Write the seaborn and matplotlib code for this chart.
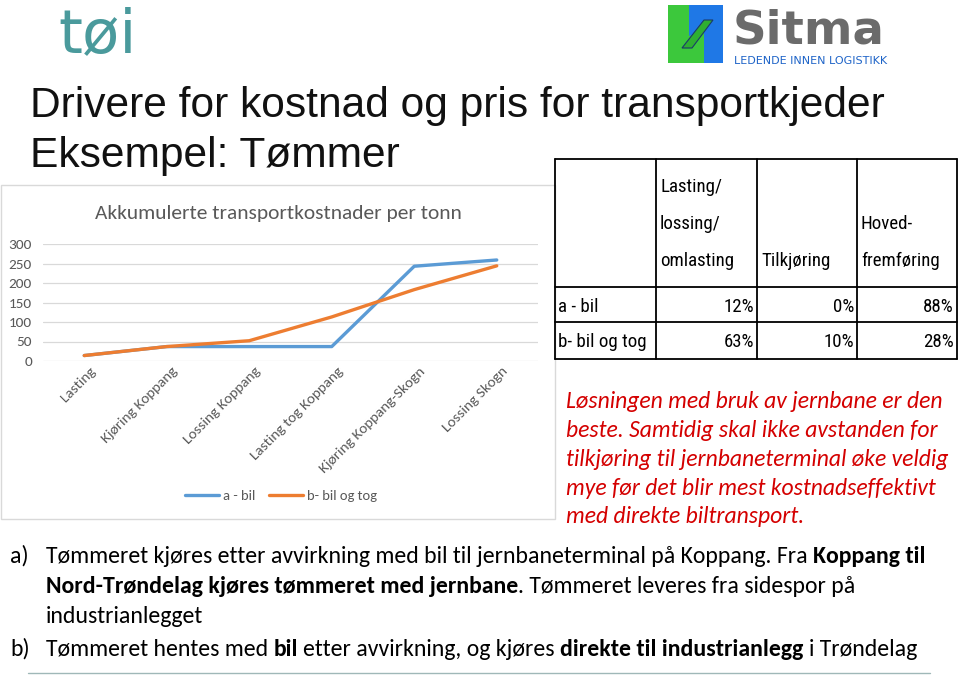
import numpy as np
import pandas as pd
import matplotlib
matplotlib.use("Agg")
import matplotlib.pyplot as plt
import seaborn as sns
from matplotlib.patches import Rectangle, Polygon
from matplotlib.lines import Line2D
from matplotlib.transforms import ScaledTranslation
from matplotlib import font_manager

# ---------------- data ----------------
categories = ["Lasting", "Kjøring Koppang", "Lossing Koppang", "Lasting tog Koppang",
              "Kjøring Koppang-Skogn", "Lossing Skogn"]
a_bil = [14, 37, 37, 37, 243, 259]
b_bil_og_tog = [14, 37, 52, 113, 183, 244]
series_names = ["a - bil", "b- bil og tog"]
series_colors = ["#5B9BD5", "#ED7D31"]
y_ticks = [0, 50, 100, 150, 200, 250, 300]
chart_title = "Akkumulerte transportkostnader per tonn"

table_header = [["Lasting/", "lossing/", "omlasting"], ["Tilkjøring"], ["Hoved-", "fremføring"]]
table_rows = ["a - bil", "b- bil og tog"]
table_values = [["12%", "0%", "88%"], ["63%", "10%", "28%"]]

title_lines = ["Drivere for kostnad og pris for transportkjeder", "Eksempel: Tømmer"]
red_lines = ["Løsningen med bruk av jernbane er den",
             "beste. Samtidig skal ikke avstanden for",
             "tilkjøring til jernbaneterminal øke veldig",
             "mye før det blir mest kostnadseffektivt",
             "med direkte biltransport."]
bullet_a = [
    [("Tømmeret kjøres etter avvirkning med bil til jernbaneterminal på Koppang. Fra ", False),
     ("Koppang til", True)],
    [("Nord-Trøndelag kjøres tømmeret med jernbane", True),
     (". Tømmeret leveres fra sidespor på", False)],
    [("industrianlegget", False)],
]
bullet_b = [
    [("Tømmeret hentes med ", False), ("bil", True), (" etter avvirkning, og kjøres ", False),
     ("direkte til industrianlegg", True), (" i Trøndelag", False)],
]

# ---------------- setup ----------------
W, H = 959, 676
sns.set_style("white")
available = {f.name for f in font_manager.fontManager.ttflist}


def pick(*names):
    for n in names:
        if n in available:
            return n
    return "DejaVu Sans"


CAL = pick("Carlito", "Lato", "Open Sans")
ARIAL = pick("Liberation Sans", "Arimo", "DejaVu Sans")
NARROW = pick("Liberation Sans Narrow", "DejaVu Sans Condensed", "Roboto Condensed", CAL)
plt.rcParams["font.family"] = [CAL, "DejaVu Sans"]

fig = plt.figure(figsize=(W / 100, H / 100), dpi=100)
fig.patch.set_facecolor("white")
renderer = fig.canvas.get_renderer()


def fx(x):
    return x / W


def fy(y):
    return 1 - y / H


def text_w(s, **kw):
    t = fig.text(0, 0, s, **kw)
    w = t.get_window_extent(renderer).width
    t.remove()
    return w


def fit(s, target, base=20.0, **kw):
    return base * target / text_w(s, fontsize=base, **kw)


def space_w(size, **kw):
    return text_w("x x", fontsize=size, **kw) - text_w("xx", fontsize=size, **kw)


def draw_segments(x, y, segs, size, family, color, draw=True):
    for s, bold in segs:
        kw = dict(family=[family, "DejaVu Sans"], weight="bold" if bold else "normal")
        sp = space_w(size, **kw)
        lead = len(s) - len(s.lstrip(" "))
        trail = len(s) - len(s.rstrip(" "))
        core = s.strip(" ")
        x += lead * sp
        t = fig.text(fx(x), fy(y), core, fontsize=size, color=color, va="baseline", ha="left", **kw)
        bb = t.get_window_extent(renderer)
        if not draw:
            t.remove()
        x = bb.x1 + trail * sp
    return x


# ---------------- logos ----------------
toi_size = fit("tøi", 78, family=["DejaVu Sans"])
fig.text(fx(58), fy(52), "tøi", fontsize=toi_size, color="#4A9A9C", family=["DejaVu Sans"],
         va="baseline", ha="left")

fig.add_artist(Rectangle((fx(668), fy(63)), (723 - 668) / W, (63 - 5) / H,
                         transform=fig.transFigure, facecolor="#1F78E6", edgecolor="none"))
fig.add_artist(Polygon([(fx(668), fy(5)), (fx(689), fy(5)), (fx(689), fy(36)), (fx(704), fy(30)),
                        (fx(704), fy(63)), (fx(668), fy(63))],
                       closed=True, transform=fig.transFigure, facecolor="#3CC83C", edgecolor="none"))
fig.add_artist(Polygon([(fx(682), fy(48)), (fx(692), fy(48)), (fx(713), fy(20)), (fx(704), fy(20))],
                       closed=True, transform=fig.transFigure, facecolor="#2FB02F",
                       edgecolor="#1A3A6A", lw=0.8))
sitma_size = fit("Sitma", 152, family=["DejaVu Sans"], weight="bold")
fig.text(fx(733), fy(43), "Sitma", fontsize=sitma_size, color="#6B6B6B",
         family=["DejaVu Sans"], weight="bold", va="baseline", ha="left")
tag = "LEDENDE INNEN LOGISTIKK"
tag_size = fit(tag, 153, family=["DejaVu Sans"])
fig.text(fx(734), fy(64), tag, fontsize=tag_size, color="#1E64C8", family=["DejaVu Sans"],
         va="baseline", ha="left")

# ---------------- title ----------------
title_size = fit(title_lines[0], 855, family=[ARIAL, "DejaVu Sans"])
for s, yb in zip(title_lines, [117, 167]):
    fig.text(fx(30), fy(yb), s, fontsize=title_size, color="#111111",
             family=[ARIAL, "DejaVu Sans"], va="baseline", ha="left")

# ---------------- chart ----------------
fig.add_artist(Rectangle((fx(0.5), fy(519)), 554.5 / W, (519 - 185) / H,
                         transform=fig.transFigure, facecolor="white", edgecolor="#D9D9D9",
                         lw=1.0, zorder=-10))
ct_size = fit(chart_title, 366, family=[CAL, "DejaVu Sans"])
fig.text(fx(278), fy(219), chart_title, fontsize=ct_size, color="#595959",
         family=[CAL, "DejaVu Sans"], ha="center", va="baseline")

ax = fig.add_axes([fx(43), fy(361), (538 - 43) / W, (361 - 244) / H])
ax.set_zorder(5)
df = pd.DataFrame({
    "Kategori": categories * 2,
    "Kostnad": a_bil + b_bil_og_tog,
    "Serie": [series_names[0]] * len(categories) + [series_names[1]] * len(categories),
})
sns.lineplot(data=df, x="Kategori", y="Kostnad", hue="Serie", hue_order=series_names,
             palette=series_colors, linewidth=2.4, sort=False, ax=ax, legend=True)
ax.set_xlim(-0.5, len(categories) - 0.5)
ax.set_ylim(0, 300)
ax.set_yticks(y_ticks)
ax.set_xticks(range(len(categories)))
ax.set_xticklabels(categories)
ax.set_xlabel("")
ax.set_ylabel("")
for sp in ax.spines.values():
    sp.set_visible(False)
ax.yaxis.grid(True, color="#D9D9D9", lw=0.9)
ax.xaxis.grid(False)
ax.set_axisbelow(True)
ax.patch.set_alpha(0)
ax.tick_params(axis="y", length=0, pad=8, labelsize=11, labelcolor="#595959")
ax.tick_params(axis="x", length=0, pad=3, labelsize=11, labelcolor="#595959")
for lbl in ax.get_yticklabels():
    lbl.set_family([CAL, "DejaVu Sans"])
for lbl in ax.get_xticklabels():
    lbl.set_family([CAL, "DejaVu Sans"])
    lbl.set_rotation(45)
    lbl.set_ha("right")
    lbl.set_va("top")
    lbl.set_rotation_mode("anchor")
    lbl.set_transform(lbl.get_transform() + ScaledTranslation(5 / 100, 0, fig.dpi_scale_trans))
handles, labels = ax.get_legend_handles_labels()
leg = ax.legend(handles, labels, loc="center", bbox_to_anchor=(fx(281), fy(496)),
                bbox_transform=fig.transFigure, ncol=2, frameon=False, fontsize=10.5,
                handlelength=2.3, handletextpad=0.25, columnspacing=1.0, labelcolor="#595959")
for t in leg.get_texts():
    t.set_family([CAL, "DejaVu Sans"])

# ---------------- table ----------------
col_x = [555, 656, 757, 857, 957]
row_y = [159, 287, 322, 359]
for x in col_x:
    fig.add_artist(Line2D([fx(x), fx(x)], [fy(row_y[0]), fy(row_y[-1])],
                          transform=fig.transFigure, color="black", lw=1.3))
for y in row_y:
    fig.add_artist(Line2D([fx(col_x[0]), fx(col_x[-1])], [fy(y), fy(y)],
                          transform=fig.transFigure, color="black", lw=1.3))
tfam = [NARROW, "DejaVu Sans"]
tab_size = fit("b- bil og tog", 88, family=tfam)
header_base = {3: [192, 229, 266], 2: [229, 266], 1: [266]}
for ci, lines in enumerate(table_header):
    ys = header_base[len(lines)]
    for s, yb in zip(lines, ys):
        fig.text(fx(col_x[ci + 1] + 4), fy(yb), s, fontsize=tab_size, color="black",
                 family=tfam, ha="left", va="baseline")
for ri, (rlabel, vals) in enumerate(zip(table_rows, table_values)):
    yb = [312, 347][ri]
    fig.text(fx(558), fy(yb), rlabel, fontsize=tab_size, color="black", family=tfam,
             ha="left", va="baseline")
    for ci, v in enumerate(vals):
        fig.text(fx(col_x[ci + 2] - 3), fy(yb), v, fontsize=tab_size, color="black",
                 family=tfam, ha="right", va="baseline")

# ---------------- red comment ----------------
red_size = fit(red_lines[2], 382, family=[CAL, "DejaVu Sans"], style="italic")
for s, yb in zip(red_lines, [408, 437, 466, 495, 523]):
    fig.text(fx(566), fy(yb), s, fontsize=red_size, color="#D40000",
             family=[CAL, "DejaVu Sans"], style="italic", ha="left", va="baseline")

# ---------------- bullets ----------------
end_b = draw_segments(0, -100, bullet_b[0], 20.0, CAL, "black", draw=False)
body_size = 20.0 * (915 - 46) / end_b
fig.text(fx(10), fy(563), "a)", fontsize=body_size, color="black", family=[CAL, "DejaVu Sans"],
         ha="left", va="baseline")
for segs, yb in zip(bullet_a, [563, 593, 623]):
    draw_segments(46, yb, segs, body_size, CAL, "black")
fig.text(fx(10), fy(656), "b)", fontsize=body_size, color="black", family=[CAL, "DejaVu Sans"],
         ha="left", va="baseline")
draw_segments(46, 656, bullet_b[0], body_size, CAL, "black")

fig.add_artist(Line2D([fx(28), fx(930)], [fy(673), fy(673)], transform=fig.transFigure,
                      color="#9FB8B8", lw=1.0))

fig.savefig("out.png", dpi=100, facecolor="white")
